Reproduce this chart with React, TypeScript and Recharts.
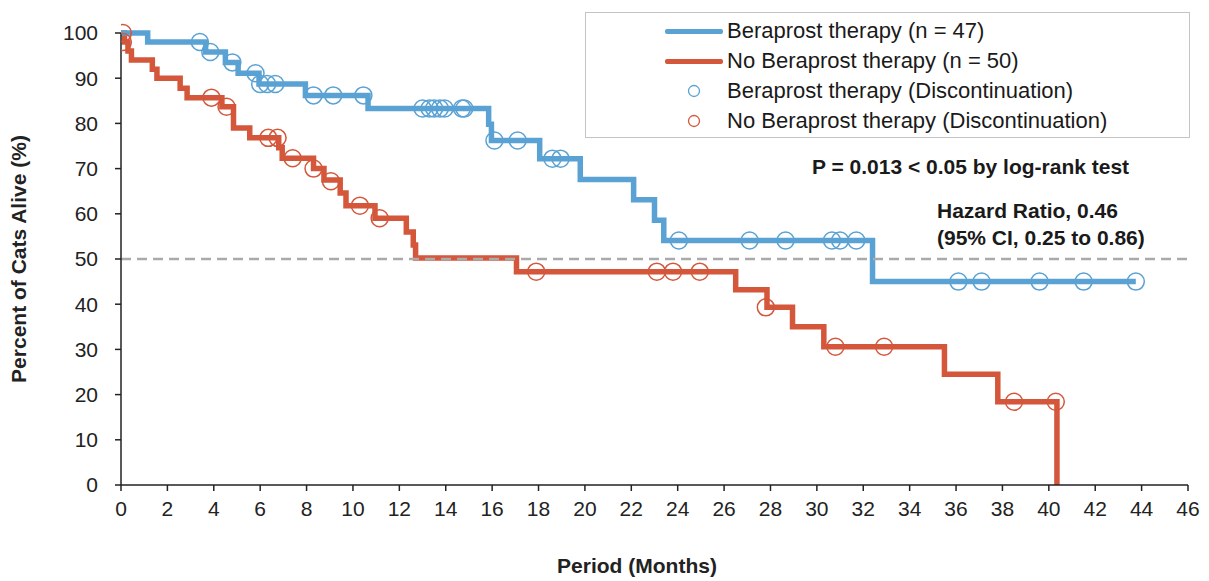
import React from "react";
import {
  ComposedChart,
  Line,
  Scatter,
  XAxis,
  YAxis,
  ReferenceLine,
} from "recharts";

// Kaplan-Meier steps (months, % alive)
const BERA_T = [0, 1.15, 3.65, 4.5, 5.05, 5.95, 7.95, 10.65, 15.85, 15.97, 18.05, 19.8, 22.1, 23.0, 23.4, 32.4, 43.75];
const BERA_S = [100, 98.0, 95.8, 93.5, 91.1, 88.7, 86.2, 83.3, 79.8, 76.2, 72.2, 67.6, 63.1, 58.6, 54.1, 45.0, 45.0];

const NOBERA_T = [0, 0.15, 0.3, 0.45, 1.35, 1.55, 2.55, 2.85, 4.35, 4.85, 5.55, 6.8, 6.95, 8.3, 8.75, 9.45, 9.7, 10.95, 12.3, 12.6, 12.7, 17.05, 26.5, 27.85, 28.95, 30.3, 35.5, 37.8, 40.35];
const NOBERA_S = [100, 98, 96, 94, 92, 90, 87.8, 85.7, 83.7, 79.0, 76.8, 74.6, 72.3, 70.0, 67.5, 64.6, 61.8, 59.0, 56.0, 53.1, 50.2, 47.2, 43.2, 39.3, 35.0, 30.6, 24.5, 18.4, 0];

// discontinuation (censor) marks
const BERA_CENS_T = [3.4, 3.85, 4.8, 5.8, 6.0, 6.3, 6.65, 8.3, 9.15, 10.45, 13.0, 13.3, 13.5, 13.75, 13.95, 14.7, 14.8, 16.1, 17.1, 18.6, 18.95, 24.05, 27.1, 28.65, 30.65, 31.0, 31.7, 36.1, 37.1, 39.6, 41.5, 43.75];
const BERA_CENS_S = [98.0, 95.8, 93.5, 91.1, 88.7, 88.7, 88.7, 86.2, 86.2, 86.2, 83.3, 83.3, 83.3, 83.3, 83.3, 83.3, 83.3, 76.2, 76.2, 72.2, 72.2, 54.1, 54.1, 54.1, 54.1, 54.1, 54.1, 45.0, 45.0, 45.0, 45.0, 45.0];

const NOBERA_CENS_T = [0.08, 0.08, 3.9, 4.55, 6.35, 6.75, 7.4, 8.3, 9.05, 10.3, 11.15, 17.9, 23.1, 23.8, 24.95, 27.8, 30.8, 32.9, 38.5, 40.3];
const NOBERA_CENS_S = [100, 98, 85.7, 83.7, 76.8, 76.8, 72.3, 70.0, 67.2, 61.8, 59.0, 47.2, 47.2, 47.2, 47.2, 39.3, 30.6, 30.6, 18.4, 18.4];

const X_TICKS = [0, 2, 4, 6, 8, 10, 12, 14, 16, 18, 20, 22, 24, 26, 28, 30, 32, 34, 36, 38, 40, 42, 44, 46];
const Y_TICKS = [0, 10, 20, 30, 40, 50, 60, 70, 80, 90, 100];

const LEGEND_ROWS = [
  { label: "Beraprost therapy (n = 47)", kind: "line", color: "#5aa2d4" },
  { label: "No Beraprost therapy (n = 50)", kind: "line", color: "#d4573b" },
  { label: "Beraprost therapy (Discontinuation)", kind: "dot", color: "#5aa2d4" },
  { label: "No Beraprost therapy (Discontinuation)", kind: "dot", color: "#d4573b" },
];

const BLUE = "#5aa2d4";
const RED = "#d4573b";
const FONT = "'Liberation Sans', Arial, sans-serif";
const AXIS = "#222";

const zip = (t: number[], s: number[]) => t.map((v, i) => ({ t: v, s: s[i] }));

const beraLine = zip(BERA_T, BERA_S);
const noBeraLine = zip(NOBERA_T, NOBERA_S);
const beraCens = zip(BERA_CENS_T, BERA_CENS_S);
const noBeraCens = zip(NOBERA_CENS_T, NOBERA_CENS_S);

const ring = (color: string) => (props: any) =>
  <circle cx={props.cx} cy={props.cy} r={8.5} fill="none" stroke={color} strokeWidth={1.5} />;

export default function App() {
  return (
    <div style={{ position: "relative", width: 1193, height: 570, fontFamily: FONT }}>
      <ComposedChart
        width={1193}
        height={570}
        margin={{ top: 25, right: 13, bottom: 53, left: 53 }}
      >
        <XAxis
          dataKey="t"
          type="number"
          domain={[0, 46]}
          ticks={X_TICKS}
          allowDataOverflow
          height={40}
          stroke={AXIS}
          strokeWidth={1.5}
          tickSize={6}
          tickMargin={10}
          tick={{ fill: AXIS, fontSize: 21, fontFamily: FONT }}
          label={{
            content: () => (
              <text x={629} y={557} textAnchor="middle" dominantBaseline="central"
                fontSize={21} fontWeight="bold" fill={AXIS} fontFamily={FONT}>
                Period (Months)
              </text>
            ),
          }}
        />
        <YAxis
          dataKey="s"
          type="number"
          domain={[0, 100]}
          ticks={Y_TICKS}
          width={60}
          stroke={AXIS}
          strokeWidth={1.5}
          tickSize={6}
          tickMargin={17}
          tick={{ fill: AXIS, fontSize: 21, fontFamily: FONT }}
          label={{
            content: () => (
              <text x={10} y={251} textAnchor="middle" dominantBaseline="central"
                transform="rotate(-90 10 251)" fontSize={21} fontWeight="bold"
                fill={AXIS} fontFamily={FONT}>
                Percent of Cats Alive (%)
              </text>
            ),
          }}
        />
        <Line data={noBeraLine} dataKey="s" type="stepAfter" stroke={RED} strokeWidth={5.5}
          dot={false} activeDot={false} isAnimationActive={false} />
        <Line data={beraLine} dataKey="s" type="stepAfter" stroke={BLUE} strokeWidth={5.5}
          dot={false} activeDot={false} isAnimationActive={false} />
        <ReferenceLine y={50} stroke="#aaaaaa" strokeWidth={2.5} strokeDasharray="10 6" />
        <Scatter data={noBeraCens} dataKey="s" shape={ring(RED)} isAnimationActive={false} />
        <Scatter data={beraCens} dataKey="s" shape={ring(BLUE)} isAnimationActive={false} />
      </ComposedChart>

      <div style={{
        position: "absolute", left: 577, top: 4, width: 605, height: 126,
        border: "1.5px solid #c4c4c4", boxSizing: "border-box", background: "#fff",
      }}>
        {LEGEND_ROWS.map((r, i) => {
          const cy = 18 + i * 30;
          return (
            <div key={r.label}>
              {r.kind === "line" ? (
                <div style={{ position: "absolute", left: 79, top: cy - 2.5, width: 58, height: 5, background: r.color, borderRadius: 2 }} />
              ) : (
                <svg style={{ position: "absolute", left: 101, top: cy - 7 }} width={14} height={14}>
                  <circle cx={7} cy={7} r={5.5} fill="none" stroke={r.color} strokeWidth={1.3} />
                </svg>
              )}
              <div style={{ position: "absolute", left: 141, top: cy - 13, lineHeight: "26px", fontSize: 22, color: "#1a1a1a", whiteSpace: "nowrap" }}>
                {r.label}
              </div>
            </div>
          );
        })}
      </div>

      <div style={{ position: "absolute", left: 804, top: 146, lineHeight: "26px", fontSize: 21, fontWeight: "bold", color: "#1a1a1a", whiteSpace: "nowrap" }}>
        P = 0.013 &lt; 0.05 by log-rank test
      </div>
      <div style={{ position: "absolute", left: 929, top: 189, lineHeight: "27px", fontSize: 21, fontWeight: "bold", color: "#1a1a1a", whiteSpace: "nowrap" }}>
        Hazard Ratio, 0.46
        <br />
        (95% CI, 0.25 to 0.86)
      </div>
    </div>
  );
}
